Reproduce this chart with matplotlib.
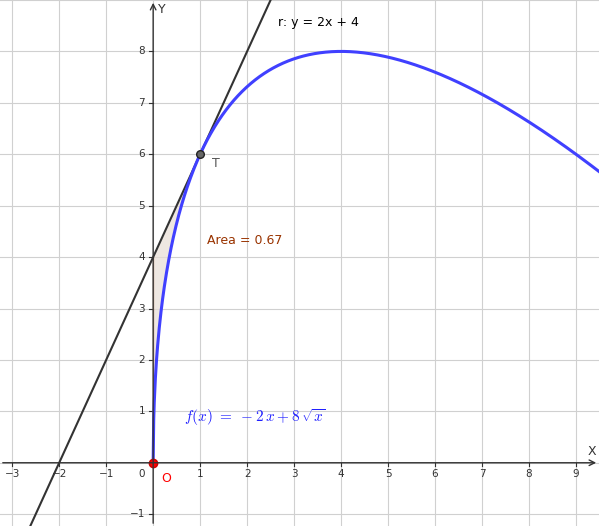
import matplotlib
matplotlib.use("Agg")
import matplotlib.pyplot as plt
import numpy as np

x_ticks = [-3, -2, -1, 1, 2, 3, 4, 5, 6, 7, 8, 9]
y_ticks = [-1, 1, 2, 3, 4, 5, 6, 7, 8]
tangent_slope = 2
tangent_intercept = 4
touch_point = (1, 6)
area_label = "Area = 0.67"


def f(x):
    return -2 * x + 8 * np.sqrt(x)


fig = plt.figure(figsize=(5.99, 5.26), dpi=100)
ax = fig.add_axes([0, 0, 1, 1])
xmin, xmax = -3.26, 9.49
ymin, ymax = -1.23, 9.0
ax.set_xlim(xmin, xmax)
ax.set_ylim(ymin, ymax)
ax.axis("off")

# grid
for gx in np.arange(-3, 10, 1):
    ax.axvline(gx, color="#d0d0d0", lw=0.8, zorder=0)
for gy in np.arange(-1, 10, 1):
    ax.axhline(gy, color="#d0d0d0", lw=0.8, zorder=0)

# axes with arrows
ax.annotate("", xy=(xmax, 0), xytext=(xmin, 0),
            arrowprops=dict(arrowstyle="->", color="#333333", lw=1))
ax.annotate("", xy=(0, ymax), xytext=(0, ymin),
            arrowprops=dict(arrowstyle="->", color="#333333", lw=1))
ax.text(9.25, 0.16, "X", fontsize=9, color="#333333")
ax.text(0.1, 8.75, "Y", fontsize=9, color="#333333")
for t in x_ticks:
    ax.plot([t, t], [0, -0.06], color="#333333", lw=0.8)
    ax.text(t, -0.12, str(t).replace("-", "\u2212"), fontsize=7.5,
            color="#333333", ha="center", va="top")
for t in y_ticks:
    ax.plot([0, -0.08], [t, t], color="#333333", lw=0.8)
    ax.text(-0.17, t, str(t).replace("-", "\u2212"), fontsize=7.5,
            color="#333333", ha="right", va="center")
ax.text(-0.17, -0.12, "0", fontsize=7.5, color="#333333", ha="right", va="top")

# area between tangent and curve
xa = np.linspace(0, 1, 200)
ax.fill_between(xa, f(xa), tangent_slope * xa + tangent_intercept,
                color="#e8ddd5", alpha=0.7, lw=0)
ax.plot([0, 0], [0, tangent_intercept], color="#c89a80", lw=1)

# tangent line
xl = np.array([xmin, xmax])
ax.plot(xl, tangent_slope * xl + tangent_intercept, color="#333333", lw=1.5)

# curve
xc = np.linspace(0, xmax, 800)
ax.plot(xc, f(xc), color="#4040ff", lw=2.2)

# points
ax.plot(*touch_point, "o", ms=5.5, mfc="#666666", mec="#222222")
ax.text(1.25, 5.75, "T", fontsize=9, color="#555555")
ax.plot(0, 0, "o", ms=6, mfc="#ff0000", mec="#cc0000")
ax.text(0.18, -0.38, "O", fontsize=9, color="#ff0000")

ax.text(2.66, 8.5, "r: y = 2x + 4", fontsize=9, color="#000000")
ax.text(1.15, 4.25, area_label, fontsize=9, color="#993300")
ax.text(0.65, 0.8, r"$f(x)\ =\ -2\,x + 8\,\sqrt{x}$", fontsize=11,
        color="#2020ff", math_fontfamily="cm")

fig.savefig("out.png", dpi=100)
